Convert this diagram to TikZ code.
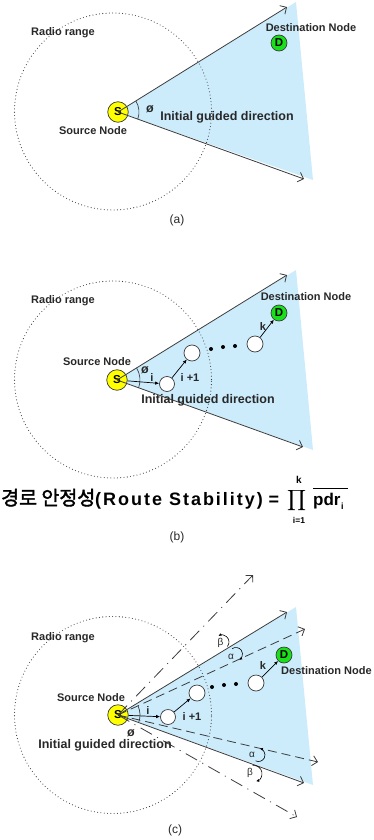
\documentclass[tikz,border=0pt]{standalone}
\usepackage{fontspec}
\usepackage{graphicx}
\setmainfont{Liberation Sans}
\newfontfamily\kofont{Noto Sans CJK KR}[AutoFakeBold=2]
\usetikzlibrary{arrows.meta}
\definecolor{wedge}{RGB}{204,236,252}
\definecolor{ln}{RGB}{60,60,60}
\definecolor{txt}{RGB}{40,40,40}
\definecolor{syel}{RGB}{255,255,0}
\definecolor{dgrn}{RGB}{25,225,25}
\tikzset{
  lbl/.style={font=\bfseries\fontsize{11}{13}\selectfont, text=txt, inner sep=0},
  philbl/.style={font=\bfseries\fontsize{12.5}{14}\selectfont, text=txt, inner sep=0},
  biglbl/.style={font=\bfseries\fontsize{12.5}{14}\selectfont, text=txt, inner sep=0},
  caplbl/.style={font=\fontsize{12}{14}\selectfont, text=txt, inner sep=0},
  grk/.style={font=\fontsize{10}{12}\selectfont, text=txt, inner sep=0},
  srcnode/.style={circle, draw=ln, line width=0.7pt, fill=syel, minimum size=20.5pt, inner sep=0, font=\bfseries\fontsize{11.5}{12}\selectfont},
  dstnode/.style={circle, draw=ln, line width=0.7pt, fill=dgrn, minimum size=16pt, inner sep=0, font=\bfseries\fontsize{11.5}{12}\selectfont},
  relay/.style={circle, draw=ln, line width=0.7pt, fill=white, minimum size=16pt, inner sep=0},
  dotn/.style={circle, fill=black, minimum size=4pt, inner sep=0},
  radio/.style={draw=ln, line width=1.1pt, line cap=round, dash pattern=on 0pt off 3.3pt},
  guide/.style={draw=ln, line width=0.8pt, -{Straight Barb[length=5pt,width=10pt]}},
  dashguide/.style={draw=ln, line width=0.8pt, dash pattern=on 9pt off 5pt, -{Straight Barb[length=5pt,width=10pt]}},
  dotdash/.style={draw=ln, line width=0.8pt, dash pattern=on 13pt off 6pt on 1pt off 6pt, -{Straight Barb[length=5pt,width=10pt]}},
  hop/.style={draw=black, line width=0.7pt, -{Latex[length=4pt,width=3.5pt]}},
  angarc/.style={draw=ln, line width=0.7pt},
  smallarc/.style={draw=black, line width=0.6pt, -{Latex[length=3pt,width=3pt]}},
  frm/.style={font=\bfseries\fontsize{18}{20}\selectfont, text=black, inner sep=0}
}
\begin{document}
\begin{tikzpicture}[x=1pt,y=1pt]
\useasboundingbox (0,0) rectangle (373,-840);

% ---------------- (a) ----------------
\begin{scope}[shift={(118,-112)}]
  \coordinate (aUpF) at (178,110);
  \coordinate (aLoF) at (195,-68);
  \coordinate (aUp) at (169,105);
  \coordinate (aLo) at (186,-67);
  \fill[wedge] (0,0) -- (aUpF) -- (aLoF) -- cycle;
  \draw[radio] (-5,0.5) circle[radius=98.5];
  \node[srcnode] (aS) at (0,0) {S};
  \draw[guide] (aS.center) -- (aUp);
  \draw[guide] (aS.center) -- (aLo);
  \draw[angarc] ([shift={(31.8:21)}]aS.center) arc[start angle=31.8, end angle=-19.8, radius=21];
  \node[dstnode] (aD) at (161,69) {D};
  \node[lbl] (aDl) at (193,84) {Destination Node};
  \node[lbl] (aRl) at (-55,79) {Radio range};
  \node[lbl] (aSl) at (-25,-19) {Source Node};
  \node[philbl] (aPhi) at (32,3) {ø};
  \node[biglbl] (aIg) at (109,-5) {Initial guided direction};
  \node[caplbl] (aCap) at (59,-108) {(a)};
\end{scope}

% ---------------- (b) ----------------
\begin{scope}[shift={(117,-380)}]
  \coordinate (bUpF) at (179,110);
  \coordinate (bLoF) at (196,-70);
  \coordinate (bUp) at (170,105);
  \coordinate (bLo) at (186,-67);
  \fill[wedge] (0,0) -- (bUpF) -- (bLoF) -- cycle;
  \draw[radio] (-4,0.5) circle[radius=98.5];
  \node[srcnode] (bS) at (0,0) {S};
  \draw[guide] (bS.center) -- (bUp);
  \draw[guide] (bS.center) -- (bLo);
  \draw[angarc] ([shift={(31.7:23)}]bS.center) arc[start angle=31.7, end angle=-19.8, radius=23];
  \node[dstnode] (bD) at (162,67) {D};
  \node[relay, minimum size=15pt] (bn1) at (50,-4) {};
  \node[relay] (bn2) at (75,27) {};
  \node[relay] (bn3) at (138,36) {};
  \node[dotn] (bd1) at (94,31) {};
  \node[dotn] (bd2) at (106,33) {};
  \node[dotn] (bd3) at (118,34) {};
  \draw[hop] (bS) -- (bn1);
  \draw[hop] (bn1) -- (bn2);
  \draw[hop] (bn3) -- (bD);
  \node[lbl] (bDl) at (189,83) {Destination Node};
  \node[lbl] (bRl) at (-54,79) {Radio range};
  \node[lbl] (bSl) at (-20,18) {Source Node};
  \node[philbl] (bPhi) at (28,10) {ø};
  \node[lbl] (bi) at (35,2) {i};
  \node[lbl] (bi1) at (73,2) {i +1};
  \node[lbl] (bk) at (146,53) {k};
  \node[biglbl] (bIg) at (91,-20) {Initial guided direction};
  \node[caplbl] (bCap) at (60,-157) {(b)};
\end{scope}

% formula
\node[frm, anchor=base west, font=\kofont\bfseries\fontsize{19.5}{21}\selectfont] (fK) at (1,-505) {경로 안정성};
\node[frm, anchor=base west, font=\bfseries\fontsize{18}{20}\selectfont\addfontfeature{LetterSpace=11}] (fR) at (95,-505) {(Route Stability)};
\node[frm, anchor=base] (fEq) at (274,-505) {=};
\node[inner sep=0] (fP) at (297,-501) {\resizebox*{19pt}{23pt}{$\displaystyle\prod$}};
\node[lbl, text=black, font=\bfseries\fontsize{10}{12}\selectfont] (fk) at (299,-480) {k};
\node[lbl, text=black, font=\bfseries\fontsize{8.5}{10}\selectfont] (fi) at (299,-520.5) {i=1};
\node[frm, anchor=base west, font=\bfseries\fontsize{17}{20}\selectfont] (fpdr) at (313,-505) {pdr};
\node[lbl, text=black, anchor=base west, font=\bfseries\fontsize{9}{10}\selectfont] (fsub) at (341,-509) {i};
\coordinate (fOl) at (313,-488);
\coordinate (fOr) at (348,-488);
\draw[line width=0.9pt] (fOl) -- (fOr);

% ---------------- (c) ----------------
\begin{scope}[shift={(118,-715)}]
  \coordinate (cUpF) at (178,108);
  \coordinate (cLoF) at (195,-70);
  \coordinate (cUp) at (169,103);
  \coordinate (cLo) at (186,-68);
  \coordinate (cDu) at (187,86);
  \coordinate (cDl) at (200,-47);
  \coordinate (cXu) at (135,140);
  \coordinate (cXl) at (179,-102);
  \fill[wedge] (0,0) -- (cUpF) -- (cLoF) -- cycle;
  \draw[radio] (-5,0) circle[radius=98.5];
  \node[srcnode] (cS) at (0,0) {S};
  \draw[dotdash] (cS.center) -- (cXu);
  \draw[dotdash] (cS.center) -- (cXl);
  \draw[dashguide] (cS.center) -- (cDu);
  \draw[dashguide] (cS.center) -- (cDl);
  \draw[guide] (cS.center) -- (cUp);
  \draw[guide] (cS.center) -- (cLo);
  \draw[angarc] ([shift={(24:22)}]cS.center) arc[start angle=24, end angle=-20, radius=22];
  \node[dstnode] (cD) at (166,60) {D};
  \node[relay, minimum size=15pt] (cn1) at (50,-2) {};
  \node[relay] (cn2) at (79,22) {};
  \node[relay] (cn3) at (138,32) {};
  \node[dotn] (cd1) at (94,28) {};
  \node[dotn] (cd2) at (106,30) {};
  \node[dotn] (cd3) at (118,31) {};
  \draw[hop] (cS) -- (cn1);
  \draw[hop] (cn1) -- (cn2);
  \draw[hop] (cn3) -- (cD);
  % alpha / beta indicators
  \draw[smallarc] ([shift={(-40:7)}]104,73) arc[start angle=-40, end angle=120, radius=7];
  \draw[smallarc] ([shift={(127:6.5)}]118,61) arc[start angle=127, end angle=-61, radius=6.5];
  \draw[smallarc] ([shift={(-117:6.5)}]140.5,-40) arc[start angle=-117, end angle=78, radius=6.5];
  \draw[smallarc] ([shift={(100:8)}]136,-58.5) arc[start angle=100, end angle=-75, radius=8];
  \node[grk] (cb1) at (102.5,72) {β};
  \node[grk] (ca1) at (113,58) {α};
  \node[grk] (ca2) at (134,-40) {α};
  \node[grk] (cb2) at (132,-58) {β};
  \node[lbl, anchor=west] (cDl) at (163,44) {Destination Node};
  \node[lbl] (cRl) at (-55,77) {Radio range};
  \node[lbl] (cSl) at (-27,17) {Source Node};
  \node[philbl] (cPhi) at (13,-18) {ø};
  \node[lbl] (ci) at (30,4) {i};
  \node[lbl] (ci1) at (74,-2) {i +1};
  \node[lbl] (ck) at (145,49) {k};
  \node[biglbl] (cIg) at (-13,-30) {Initial guided direction};
  \node[caplbl] (cCap) at (57,-115) {(c)};
\end{scope}
\end{tikzpicture}
\end{document}
